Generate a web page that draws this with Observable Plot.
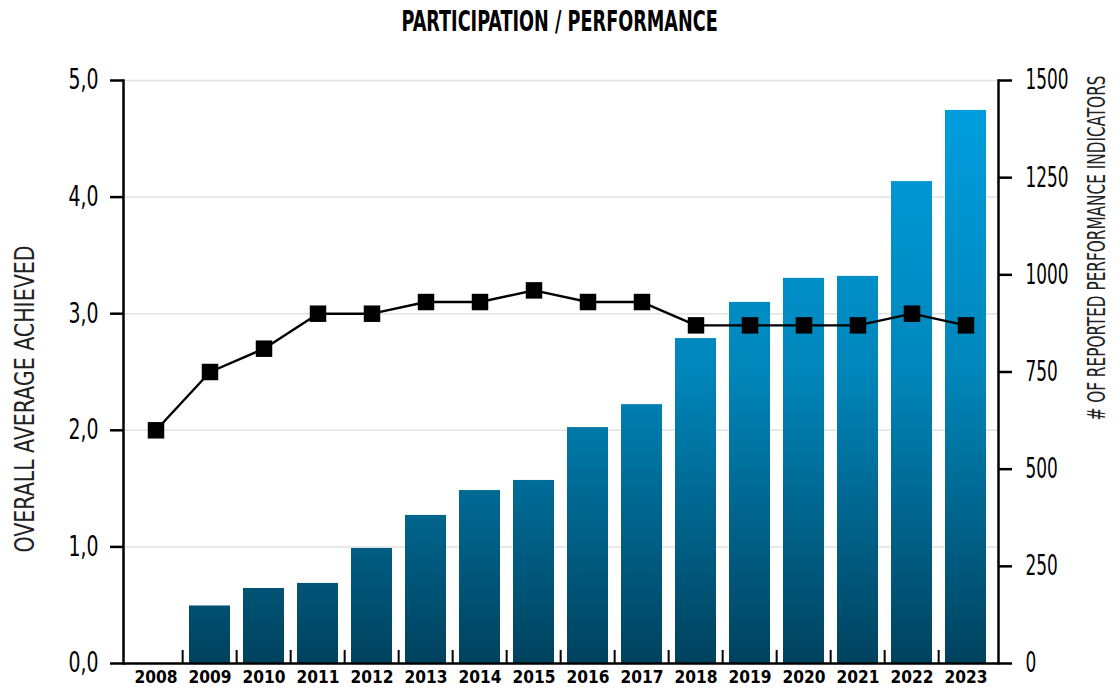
<!DOCTYPE html>
<html>
<head>
<meta charset="utf-8">
<script src="https://cdn.jsdelivr.net/npm/d3@7"></script>
<script src="https://cdn.jsdelivr.net/npm/@observablehq/plot@0.6"></script>
<style>
  html, body { margin: 0; padding: 0; background: #fff; }
  #wrap { width: 1119px; height: 689px; position: relative; overflow: hidden; }
  #title { height: 44px; line-height: 44px; text-align: center; font-family: "DejaVu Sans Condensed", "Liberation Sans Narrow", sans-serif; font-stretch: condensed; font-weight: bold; font-size: 28px; color: #000; white-space: nowrap; }
  #title span { display: inline-block; transform-origin: 50% 50%; }
  svg text { font-family: "DejaVu Sans Condensed", "Liberation Sans Narrow", sans-serif; font-stretch: condensed; }
</style>
</head>
<body>
<div id="wrap">
  <div id="title"><span>PARTICIPATION / PERFORMANCE</span></div>
  <div id="chart"></div>
</div>
<script>
const years = ["2008","2009","2010","2011","2012","2013","2014","2015","2016","2017","2018","2019","2020","2021","2022","2023"];
const indicatorCounts = [0, 148, 193, 206, 296, 381, 445, 471, 607, 666, 836, 929, 991, 996, 1240, 1423];
const averageAchieved = [2.0, 2.5, 2.7, 3.0, 3.0, 3.1, 3.1, 3.2, 3.1, 3.1, 2.9, 2.9, 2.9, 2.9, 3.0, 2.9];
const leftTicks = [0, 1, 2, 3, 4, 5];
const rightTicks = [0, 250, 500, 750, 1000, 1250, 1500];
const leftLabel = "OVERALL AVERAGE ACHIEVED";
const rightLabel = "# OF REPORTED PERFORMANCE INDICATORS";

const leftMax = 5, rightMax = 1500, ratio = rightMax / leftMax;
const data = years.map((y, i) => ({year: y, count: indicatorCounts[i], avg: averageAchieved[i]}));

const W = 1119, H = 645, mL = 123, mR = 121, mT = 36, mB = 26;
const step = (W - mL - mR) / years.length;
const fontFam = '"DejaVu Sans Condensed", "Liberation Sans Narrow", sans-serif';

const plot = Plot.plot({
  width: W, height: H,
  marginLeft: mL, marginRight: mR, marginTop: mT, marginBottom: mB,
  style: {fontFamily: fontFam, background: "#fff", overflow: "visible"},
  x: {type: "band", domain: years, paddingInner: 0.25, paddingOuter: 0.125, axis: null},
  y: {domain: [0, leftMax], axis: null},
  marks: [
    Plot.ruleY(leftTicks.filter(d => d > 0), {stroke: "#e2e2e2", strokeWidth: 1.5}),
    Plot.barY(data, {x: "year", y: d => d.count / ratio, fill: "url(#barGrad)"}),
    Plot.ruleX(years.slice(1), {x: d => d, y1: 0, y2: 0, dx: -step / 2, insetTop: -13, stroke: "#000", strokeWidth: 2}),
    Plot.ruleY([0], {stroke: "#000", strokeWidth: 2.5}),
    Plot.frame({anchor: "left", stroke: "#000", strokeWidth: 2.5}),
    Plot.frame({anchor: "right", stroke: "#000", strokeWidth: 2.5}),
    Plot.axisY({anchor: "left", ticks: leftTicks, tickSize: 13, tickPadding: 12, tickFormat: d => d.toFixed(1).replace(".", ","), fontSize: 28, strokeWidth: 2.5, color: "#000", label: null}),
    Plot.axisY({anchor: "right", ticks: rightTicks.map(v => v / ratio), tickSize: 13, tickPadding: 14, tickFormat: d => String(Math.round(d * ratio)), fontSize: 28, strokeWidth: 2.5, color: "#000", label: null}),
    Plot.axisX({anchor: "bottom", tickSize: 0, tickPadding: 7, fontSize: 18, fontWeight: "bold", color: "#000", label: null}),
    Plot.line(data, {x: "year", y: "avg", stroke: "#000", strokeWidth: 2.4}),
    Plot.dot(data, {x: "year", y: "avg", symbol: "square", r: 9.3, fill: "#000", stroke: "none"}),
    Plot.text([leftLabel], {frameAnchor: "left", text: d => d, dx: -98, dy: 27, rotate: -90, fontSize: 27, fill: "#222", textAnchor: "middle"}),
    Plot.text([rightLabel], {frameAnchor: "right", text: d => d, dx: 99, dy: -124, rotate: -90, fontSize: 24, fill: "#222", textAnchor: "middle"})
  ]
});

const svg = d3.select(plot);
const defs = svg.insert("defs", ":first-child");
const g = defs.append("linearGradient").attr("id", "barGrad")
  .attr("gradientUnits", "userSpaceOnUse")
  .attr("x1", 0).attr("x2", 0).attr("y1", mT).attr("y2", H - mB);
g.append("stop").attr("offset", "0%").attr("stop-color", "#00A0E2");
g.append("stop").attr("offset", "50%").attr("stop-color", "#0086BA");
g.append("stop").attr("offset", "100%").attr("stop-color", "#00425E");

document.getElementById("chart").appendChild(plot);

// condense glyphs to match the narrow display face of the reference
function squeeze(texts, refIndex, target) {
  if (!texts.length) return;
  const f = target / texts[refIndex].getComputedTextLength();
  texts.forEach(t => {
    const n = t.getComputedTextLength();
    t.setAttribute("textLength", (n * f).toFixed(1));
    t.setAttribute("lengthAdjust", "spacingAndGlyphs");
  });
}
const yAxes = plot.querySelectorAll('g[aria-label="y-axis tick label"]');
if (yAxes[0]) { const t = [...yAxes[0].querySelectorAll("text")]; squeeze(t, t.length - 1, 30); }
if (yAxes[1]) { const t = [...yAxes[1].querySelectorAll("text")]; squeeze(t, t.length - 1, 43); }
const xAx = plot.querySelector('g[aria-label="x-axis tick label"]');
if (xAx) { const t = [...xAx.querySelectorAll("text")]; squeeze(t, 0, 43); }
const txtMarks = plot.querySelectorAll('g[aria-label="text"]');
if (txtMarks[0]) squeeze([...txtMarks[0].querySelectorAll("text")], 0, 307);
if (txtMarks[1]) squeeze([...txtMarks[1].querySelectorAll("text")], 0, 345);

const span = document.querySelector("#title span");
span.style.transform = `scaleX(${316 / span.offsetWidth})`;
</script>
</body>
</html>
